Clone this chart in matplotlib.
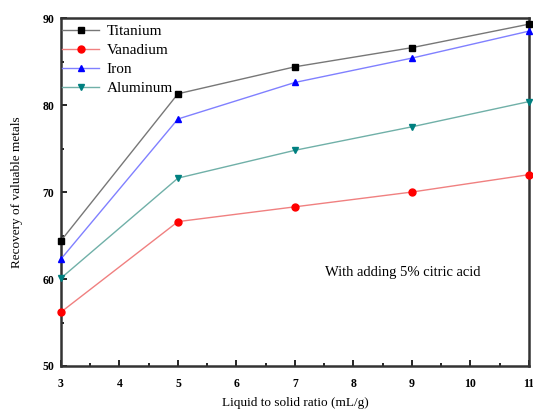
import numpy as np
import matplotlib
matplotlib.use('Agg')
import matplotlib.pyplot as plt
from matplotlib.ticker import MultipleLocator

plt.rcParams['font.family'] = ['Liberation Serif', 'DejaVu Serif']

ratio = [3, 5, 7, 9, 11]
titanium = [64.4, 81.3, 84.4, 86.6, 89.3]
vanadium = [56.2, 66.6, 68.3, 70.0, 72.0]
iron = [62.3, 78.4, 82.6, 85.4, 88.5]
aluminum = [60.1, 71.6, 74.8, 77.5, 80.4]

series = [
    ('Titanium', titanium, 'black', 's', '#777777'),
    ('Vanadium', vanadium, 'red', 'o', '#f08080'),
    ('Iron', iron, 'blue', '^', '#8080ff'),
    ('Aluminum', aluminum, '#008080', 'v', '#70b0a8'),
]

fig = plt.figure(figsize=(5.33, 4.11), dpi=100)
ax = fig.add_axes([0.1144, 0.1095, 0.878, 0.8465])

for name, vals, col, mk, lcol in series:
    ax.plot(ratio, vals, color=lcol, lw=1.0, marker=mk, markersize=5,
            markerfacecolor=col, markeredgecolor=col, label=name, clip_on=False, zorder=3)

ax.set_xlim(3, 11)
ax.set_ylim(50, 90)
ax.xaxis.set_major_locator(MultipleLocator(1))
ax.xaxis.set_minor_locator(MultipleLocator(0.5))
ax.yaxis.set_major_locator(MultipleLocator(10))
ax.yaxis.set_minor_locator(MultipleLocator(5))
ax.tick_params(which='both', direction='in', top=False, right=False, width=1.2)
ax.tick_params(which='major', length=4, labelsize=8.5)
ax.tick_params(axis='x', which='major', pad=9)
ax.tick_params(axis='y', which='major', pad=5)
ax.tick_params(which='minor', length=2)
for lbl in ax.get_xticklabels() + ax.get_yticklabels():
    lbl.set_fontweight('bold')
for s in ax.spines.values():
    s.set_linewidth(1.8)
    s.set_color('#333333')

ax.set_xlabel('Liquid to solid ratio (mL/g)', fontsize=9.5, labelpad=5)
ax.set_ylabel('Recovery of valuable metals', fontsize=9.5, labelpad=14)

ax.text(8.85, 60.8, 'With adding 5% citric acid', fontsize=10.5, ha='center', va='center')

ax.legend(loc='upper left', frameon=False, fontsize=11, handlelength=2.4,
          borderaxespad=0.0, borderpad=0.4, labelspacing=0.35, handletextpad=0.5,
          bbox_to_anchor=(-0.01, 1.0))

fig.savefig('out.png', dpi=100)
